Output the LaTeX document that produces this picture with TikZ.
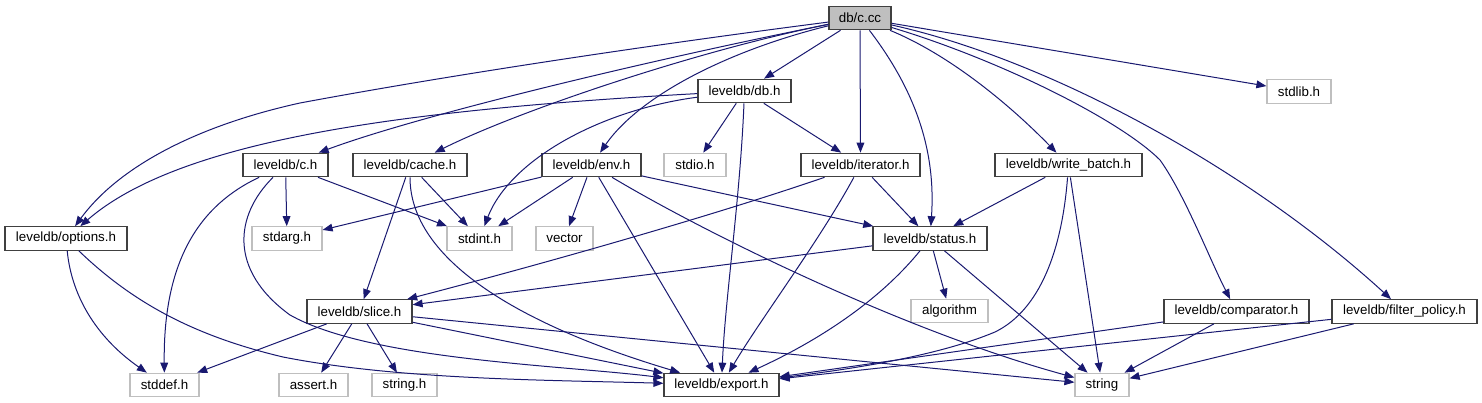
\documentclass[tikz,border=0pt]{standalone}
\usepackage{fontspec}
\setmainfont{Liberation Sans}
\usetikzlibrary{arrows.meta}
\definecolor{edgeblue}{HTML}{191970}
\definecolor{lgray}{HTML}{BFBFBF}
\begin{document}
\begin{tikzpicture}[x=0.75pt,y=-0.75pt,
  box/.style={draw, line width=0.9pt, minimum height=17.6pt, inner sep=0pt, font=\fontsize{10}{12}\selectfont},
  hb/.style={box, draw=black!75},
  gb/.style={box, draw=lgray},
  bw/.style={minimum width=#1*0.75pt},
  e/.style={draw=edgeblue, line width=0.75pt, -{Triangle[length=7.5pt,width=5.8pt]}}]
\useasboundingbox (0,0) rectangle (1482,403);
% nodes
\node[hb, bw=62, fill=lgray] (cc) at (860,18) {db/c.cc};
\node[hb, bw=93] (db) at (744.5,91) {leveldb/db.h};
\node[gb, bw=64] (stdlib) at (1299,91.5) {stdlib.h};
\node[hb, bw=85] (ch) at (285.5,165) {leveldb/c.h};
\node[hb, bw=114] (cache) at (410,165) {leveldb/cache.h};
\node[hb, bw=99] (env) at (591.5,165) {leveldb/env.h};
\node[gb, bw=62] (stdio) at (695,165) {stdio.h};
\node[hb, bw=119] (iter) at (860.5,165) {leveldb/iterator.h};
\node[hb, bw=147] (wb) at (1068.5,165) {leveldb/write\_batch.h};
\node[hb, bw=122] (opt) at (66,238.5) {leveldb/options.h};
\node[gb, bw=70] (stdarg) at (287,238.5) {stdarg.h};
\node[gb, bw=65] (stdint) at (479.5,238.5) {stdint.h};
\node[gb, bw=57] (vector) at (564.5,238.5) {vector};
\node[hb, bw=114] (status) at (930,238.5) {leveldb/status.h};
\node[hb, bw=105] (slice) at (359.5,311.5) {leveldb/slice.h};
\node[gb, bw=77] (algo) at (949.5,311) {algorithm};
\node[hb, bw=145] (comp) at (1236.5,311.5) {leveldb/comparator.h};
\node[hb, bw=145] (filter) at (1404.5,311.5) {leveldb/filter\_policy.h};
\node[gb, bw=69] (stddef) at (164.5,385) {stddef.h};
\node[gb, bw=69] (assert) at (313.5,385) {assert.h};
\node[gb, bw=65] (stringh) at (404.5,385) {string.h};
\node[hb, bw=115] (export) at (721.5,385) {leveldb/export.h};
\node[gb, bw=54] (string) at (1102,385) {string};
% edges from db/c.cc
\draw[e] (cc) -- (db);
\draw[e] (cc) -- (stdlib);
\draw[e] (cc) -- (iter);
\draw[e] (cc) .. controls (915,90) and (936,150) .. (status);
\draw[e] (cc) .. controls (950,55) and (1010,105) .. (wb);
\draw[e] (cc) .. controls (1000,60) and (1120,120) .. (1160,160) .. controls (1185,195) and (1210,260) .. (comp);
\draw[e] (cc) .. controls (1050,60) and (1250,170) .. (filter);
\draw[e] (cc) .. controls (650,45) and (450,75) .. (300,103) .. controls (200,125) and (120,165) .. (opt);
\draw[e] (cc) .. controls (650,60) and (420,115) .. (ch);
\draw[e] (cc) .. controls (700,50) and (520,110) .. (cache);
\draw[e] (cc) .. controls (730,50) and (640,95) .. (env);
% leveldb/db.h
\draw[e] (db) .. controls (400,110) and (180,140) .. (opt);
\draw[e] (db) .. controls (600,110) and (510,160) .. (stdint);
\draw[e] (db) -- (stdio);
\draw[e] (db) .. controls (740,200) and (725,300) .. (export);
\draw[e] (db) -- (iter);
% leveldb/c.h
\draw[e] (ch) -- (stdarg);
\draw[e] (ch) -- (stdint);
\draw[e] (ch) .. controls (200,205) and (163,260) .. (stddef);
\draw[e] (ch) .. controls (235,215) and (228,270) .. (290,315) .. controls (370,360) and (560,365) .. (export);
% leveldb/cache.h
\draw[e] (cache) -- (stdint);
\draw[e] (cache) -- (slice);
\draw[e] (cache) .. controls (410,260) and (520,325) .. (export);
% leveldb/env.h
\draw[e] (env) -- (stdarg);
\draw[e] (env) -- (stdint);
\draw[e] (env) -- (vector);
\draw[e] (env) -- (export);
\draw[e] (env) .. controls (700,230) and (900,330) .. (string);
\draw[e] (env) -- (status);
% leveldb/iterator.h
\draw[e] (iter) -- (status);
\draw[e] (iter) .. controls (820,240) and (760,320) .. (export);
\draw[e] (iter) .. controls (700,220) and (520,270) .. (slice);
% leveldb/write_batch.h
\draw[e] (wb) -- (status);
\draw[e] (wb) .. controls (1062,250) and (1040,310) .. (995,332) .. controls (940,355) and (860,368) .. (export);
\draw[e] (wb) -- (string);
% leveldb/options.h
\draw[e] (opt) .. controls (72,300) and (100,340) .. (stddef);
\draw[e] (opt) .. controls (130,300) and (190,335) .. (283,357) .. controls (400,380) and (550,380) .. (export);
% leveldb/status.h
\draw[e] (status) -- (slice);
\draw[e] (status) -- (algo);
\draw[e] (status) .. controls (880,300) and (820,340) .. (export);
\draw[e] (status) -- (string);
% leveldb/slice.h
\draw[e] (slice) -- (stddef);
\draw[e] (slice) -- (assert);
\draw[e] (slice) -- (stringh);
\draw[e] (slice) -- (export);
\draw[e] (slice) -- (string);
% leveldb/comparator.h
\draw[e] (comp) -- (export);
\draw[e] (comp) -- (string);
% leveldb/filter_policy.h
\draw[e] (filter) -- (export);
\draw[e] (filter) -- (string);
\end{tikzpicture}
\end{document}
